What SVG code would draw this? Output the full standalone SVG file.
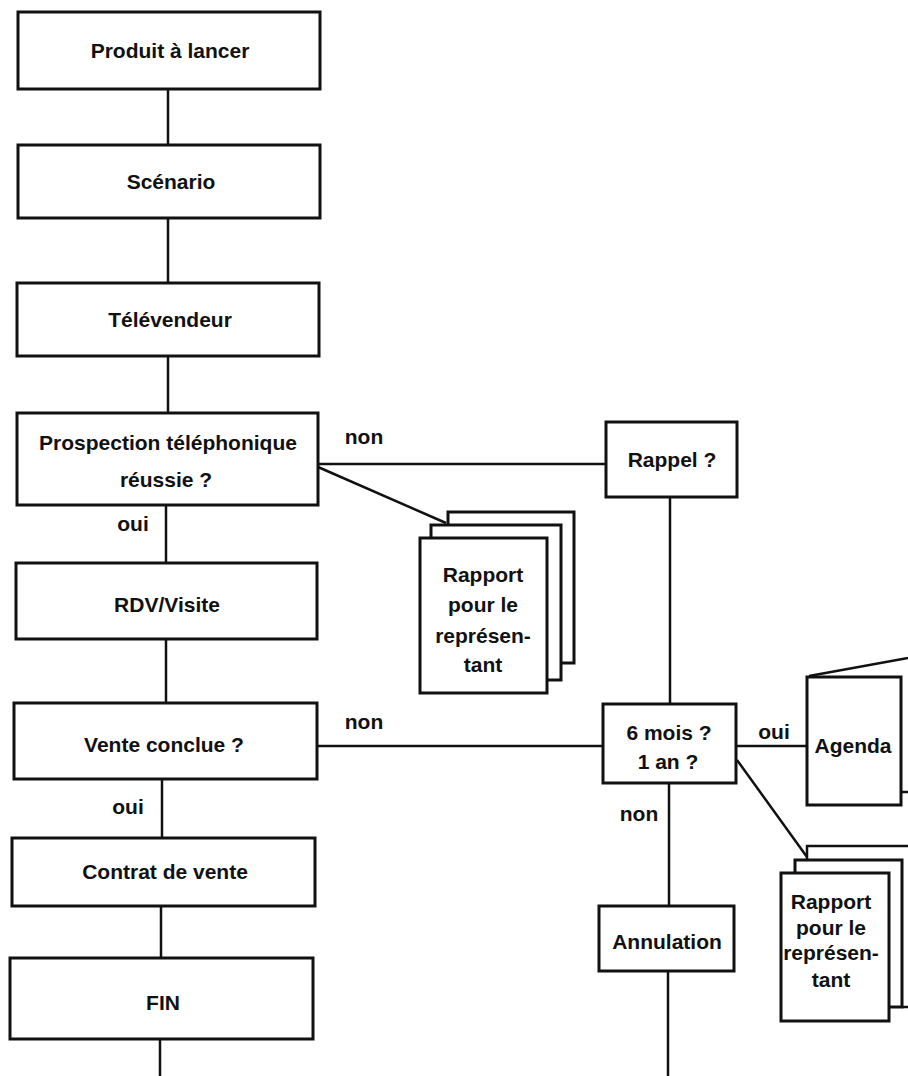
<svg xmlns="http://www.w3.org/2000/svg" width="908" height="1076" viewBox="0 0 908 1076">
<style>
.box{fill:#fff;stroke:#111;stroke-width:3}
.ln{fill:none;stroke:#111;stroke-width:2.5}
.t{font-family:"Liberation Sans",Arial,sans-serif;font-weight:bold;font-size:21px;fill:#111;text-anchor:middle}
.l{font-family:"Liberation Sans",Arial,sans-serif;font-weight:bold;font-size:21px;fill:#111;text-anchor:middle}
</style>
<rect width="908" height="1076" fill="#fff"/>
<g id="connectors">
<line class="ln" x1="168" y1="89" x2="168" y2="145"/>
<line class="ln" x1="168" y1="218" x2="168" y2="283"/>
<line class="ln" x1="168" y1="356" x2="168" y2="413"/>
<line class="ln" x1="166" y1="505" x2="166" y2="563"/>
<line class="ln" x1="166" y1="639" x2="166" y2="703"/>
<line class="ln" x1="162" y1="779" x2="162" y2="838"/>
<line class="ln" x1="161" y1="906" x2="161" y2="958"/>
<line class="ln" x1="160" y1="1039" x2="160" y2="1076"/>
<line class="ln" x1="318" y1="464" x2="606" y2="464"/>
<line class="ln" x1="318" y1="467" x2="446" y2="523"/>
<line class="ln" x1="670" y1="497" x2="670" y2="704"/>
<line class="ln" x1="317" y1="746" x2="603" y2="746"/>
<line class="ln" x1="736" y1="746" x2="807" y2="746"/>
<line class="ln" x1="737" y1="760" x2="807" y2="857"/>
<line class="ln" x1="669" y1="783" x2="669" y2="906"/>
<line class="ln" x1="668" y1="971" x2="668" y2="1076"/>
<text class="l" x="364" y="444">non</text>
<text class="l" x="133" y="531">oui</text>
<text class="l" x="364" y="729">non</text>
<text class="l" x="128" y="814">oui</text>
<text class="l" x="774" y="739">oui</text>
<text class="l" x="639" y="821">non</text>
</g>
<g id="produit">
<rect class="box" x="18" y="12" width="302" height="77"/>
<text class="t" x="170" y="58">Produit à lancer</text>
</g>
<g id="scenario">
<rect class="box" x="18" y="145" width="302" height="73"/>
<text class="t" x="171" y="189">Scénario</text>
</g>
<g id="televendeur">
<rect class="box" x="17" y="283" width="302" height="73"/>
<text class="t" x="170" y="327">Télévendeur</text>
</g>
<g id="prospection">
<rect class="box" x="17" y="413" width="301" height="92"/>
<text class="t" x="168" y="450">Prospection téléphonique</text>
<text class="t" x="166" y="487">réussie ?</text>
</g>
<g id="rdv">
<rect class="box" x="16" y="563" width="301" height="76"/>
<text class="t" x="167" y="612">RDV/Visite</text>
</g>
<g id="vente">
<rect class="box" x="14" y="703" width="303" height="76"/>
<text class="t" x="164" y="752">Vente conclue ?</text>
</g>
<g id="contrat">
<rect class="box" x="12" y="838" width="303" height="68"/>
<text class="t" x="165" y="879">Contrat de vente</text>
</g>
<g id="fin">
<rect class="box" x="10" y="958" width="303" height="81"/>
<text class="t" x="163" y="1010">FIN</text>
</g>
<g id="rappel">
<rect class="box" x="606" y="422" width="131" height="75"/>
<text class="t" x="672" y="467">Rappel ?</text>
</g>
<g id="rapport1">
<rect class="box" x="448" y="512" width="126" height="151"/>
<rect class="box" x="431" y="525" width="130" height="155"/>
<rect class="box" x="420" y="538" width="127" height="155"/>
<text class="t" x="483" y="582">Rapport</text>
<text class="t" x="483" y="612">pour le</text>
<text class="t" x="483" y="643">représen-</text>
<text class="t" x="483" y="672">tant</text>
</g>
<g id="delai">
<rect class="box" x="603" y="704" width="133" height="79"/>
<text class="t" x="669" y="740">6 mois ?</text>
<text class="t" x="668" y="769">1 an ?</text>
</g>
<g id="agenda">
<line class="ln" x1="809" y1="676" x2="908" y2="658"/>
<line class="ln" x1="901" y1="792" x2="908" y2="792"/>
<rect class="box" x="807" y="677" width="94" height="128"/>
<text class="t" x="853" y="753">Agenda</text>
</g>
<g id="annulation">
<rect class="box" x="599" y="906" width="135" height="65"/>
<text class="t" x="667" y="949">Annulation</text>
</g>
<g id="rapport2">
<polyline class="ln" points="807,860 807,846 908,846"/>
<line class="ln" x1="902" y1="1007" x2="908" y2="1007"/>
<rect class="box" x="795" y="860" width="107" height="147"/>
<rect class="box" x="781" y="873" width="108" height="148"/>
<text class="t" x="831" y="909">Rapport</text>
<text class="t" x="831" y="935">pour le</text>
<text class="t" x="831" y="960">représen-</text>
<text class="t" x="831" y="987">tant</text>
</g>
</svg>
